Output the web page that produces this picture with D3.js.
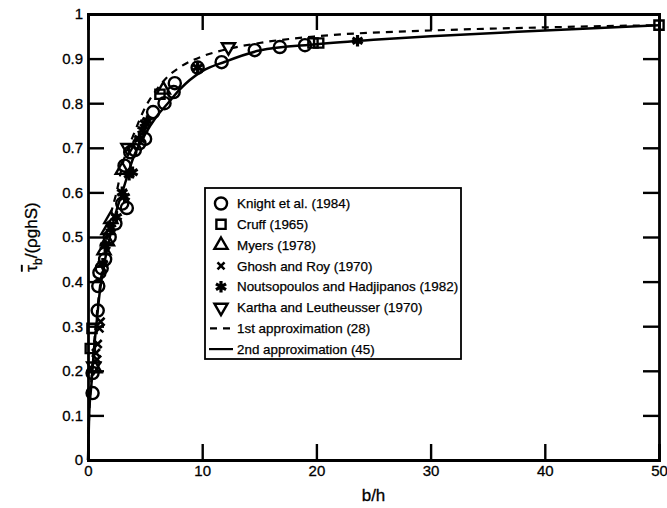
<!doctype html>
<html>
<head>
<title>bed shear stress vs b/h</title>
<script src="https://d3js.org/d3.v7.min.js"></script>
<style>
  body { margin: 0; background: #fff; }
  text { font-family: "Liberation Sans", Arial, sans-serif; fill: #000; }
</style>
</head>
<body>
<script>
// values
var xTicks = [0, 10, 20, 30, 40, 50];
var yTicks = [0, 0.1, 0.2, 0.3, 0.4, 0.5, 0.6, 0.7, 0.8, 0.9, 1];

var knight = [[0.4,0.15],[0.4,0.195],[0.85,0.335],[0.9,0.39],[1.0,0.42],[1.2,0.43],[1.5,0.45],
  [1.9,0.50],[2.4,0.53],[3.0,0.575],[3.4,0.565],[3.2,0.66],[3.7,0.69],[4.1,0.695],[4.5,0.71],
  [5.0,0.72],[5.7,0.78],[6.7,0.80],[7.5,0.825],[7.6,0.845],[9.6,0.88],[11.7,0.892],
  [14.6,0.919],[16.8,0.926],[19.0,0.93]];
var cruff = [[0.2,0.25],[0.35,0.295],[6.3,0.82],[19.7,0.935],[20.2,0.935],[50,0.975]];
var myers = [[0.6,0.205],[1.4,0.47],[1.7,0.49],[1.75,0.515],[2.0,0.54],[3.0,0.65],[6.6,0.83]];
var ghosh = [[0.7,0.24],[0.8,0.225],[0.85,0.26],[1.0,0.295],[1.1,0.31]];
var noutso = [[1.3,0.44],[1.5,0.48],[2.0,0.52],[2.5,0.545],[3.0,0.60],[3.2,0.59],[3.6,0.64],
  [3.9,0.645],[4.5,0.72],[4.8,0.74],[5.0,0.755],[5.2,0.76],[9.6,0.88],[23.6,0.94]];
var kartha = [[0.5,0.21],[3.5,0.70],[12.3,0.926]];

var approx1 = [[0,0],[0.1,0.1],[0.3,0.18],[0.5,0.25],[1,0.38],[1.5,0.47],[2,0.55],[2.5,0.6],[3,0.66],
  [4,0.73],[5,0.79],[6,0.83],[7,0.86],[8,0.88],[10,0.905],[12,0.92],[15,0.935],[20,0.95],
  [30,0.963],[40,0.97],[50,0.975]];
var approx2 = [[0,0],[0.1,0.1],[0.3,0.17],[0.5,0.24],[0.8,0.32],[1,0.37],[1.5,0.45],[2,0.51],
  [2.5,0.56],[3,0.6],[4,0.68],[5,0.73],[6,0.77],[7,0.80],[8,0.83],[10,0.872],[12,0.893],
  [15,0.918],[20,0.932],[25,0.942],[30,0.95],[40,0.963],[50,0.975]];

var legendNames = ["Knight et al. (1984)", "Cruff (1965)", "Myers (1978)", "Ghosh and Roy (1970)",
  "Noutsopoulos and Hadjipanos (1982)", "Kartha and Leutheusser (1970)",
  "1st approximation (28)", "2nd approximation (45)"];

var W = 667, H = 508;
var margin = {top: 14, right: 8, bottom: 48, left: 88};

var svg = d3.select("body").append("svg")
  .attr("width", W).attr("height", H);

var x = d3.scaleLinear().domain([0, 50]).range([margin.left, W - margin.right]);
var y = d3.scaleLinear().domain([0, 1]).range([H - margin.bottom, margin.top]);

// curves
var line = d3.line().x(function(d){ return x(d[0]); }).y(function(d){ return y(d[1]); })
  .curve(d3.curveMonotoneX);

svg.append("path").datum(approx1).attr("d", line)
  .attr("fill", "none").attr("stroke", "#000").attr("stroke-width", 2.2)
  .attr("stroke-dasharray", "7,6");
svg.append("path").datum(approx2).attr("d", line)
  .attr("fill", "none").attr("stroke", "#000").attr("stroke-width", 2.5);

// markers
function sym(type, size) { return d3.symbol().type(type).size(size)(); }
var tri = sym(d3.symbolTriangle, 75);
var xmark = "M-4,-4L4,4M-4,4L4,-4";
var markStyles = [
  {data: knight, path: sym(d3.symbolCircle, 115), sw: 2.4},
  {data: cruff, path: sym(d3.symbolSquare, 85), sw: 2.4},
  {data: myers, path: tri, sw: 2.4},
  {data: ghosh, path: xmark, sw: 2.6},
  {data: noutso, path: sym(d3.symbolAsterisk, 95), sw: 3.2},
  {data: kartha, path: tri, sw: 2.4, rot: 180}
];

markStyles.forEach(function(st){
  svg.append("g").selectAll("path").data(st.data).enter().append("path")
    .attr("d", st.path)
    .attr("transform", function(d){ return "translate(" + x(d[0]) + "," + y(d[1]) + ")" + (st.rot ? " rotate(" + st.rot + ")" : ""); })
    .attr("fill", "none").attr("stroke", "#000").attr("stroke-width", st.sw);
});

// axes with inward ticks on all sides
var fmt = function(d){ return d3.format("")(d); };
svg.append("g").attr("transform", "translate(0," + y(0) + ")")
  .call(d3.axisBottom(x).tickValues(xTicks).tickSize(-16).tickPadding(5).tickFormat(fmt))
  .call(function(g){ g.selectAll("text").attr("font-size", 15).attr("dy", "0.75em"); });
svg.append("g").attr("transform", "translate(0," + y(1) + ")")
  .call(d3.axisTop(x).tickValues(xTicks).tickSize(-16).tickFormat(""));
svg.append("g").attr("transform", "translate(" + x(0) + ",0)")
  .call(d3.axisLeft(y).tickValues(yTicks).tickSize(-16).tickPadding(5).tickFormat(fmt))
  .call(function(g){ g.selectAll("text").attr("font-size", 15); });
svg.append("g").attr("transform", "translate(" + x(50) + ",0)")
  .call(d3.axisRight(y).tickValues(yTicks).tickSize(-16).tickFormat(""));

svg.selectAll(".domain").attr("stroke", "#000").attr("stroke-width", 2.8);
svg.selectAll(".tick line").attr("stroke", "#000").attr("stroke-width", 2.4);
svg.selectAll(".tick text").attr("font-family", "Liberation Sans, Arial, sans-serif")
  .attr("fill", "#000").attr("stroke", "#000").attr("stroke-width", 0.3);

// axis titles
svg.append("text")
  .attr("x", (x(0) + x(50)) / 2).attr("y", 501)
  .attr("text-anchor", "middle").attr("font-size", 17)
  .attr("stroke", "#000").attr("stroke-width", 0.3)
  .text("b/h");

var yl = svg.append("text")
  .attr("transform", "translate(37," + ((y(0) + y(1)) / 2) + ") rotate(-90)")
  .attr("text-anchor", "middle").attr("font-size", 17)
  .attr("stroke", "#000").attr("stroke-width", 0.3);
yl.append("tspan").style("text-decoration", "overline").text("τ");
yl.append("tspan").attr("dy", 5).attr("font-size", 12).text("b");
yl.append("tspan").attr("dy", -5).text("/(ρghS)");

// legend
var lg = svg.append("g").attr("transform", "translate(205,188)");
lg.append("rect").attr("width", 256).attr("height", 171)
  .attr("fill", "#fff").attr("stroke", "#000").attr("stroke-width", 1.8);
var rowH = 20.8;
legendNames.forEach(function(name, i){
  var cy = 15.5 + i * rowH;
  var row = lg.append("g").attr("transform", "translate(0," + cy + ")");
  if (i < 6) {
    var st = markStyles[i];
    row.append("path").attr("d", i === 3 ? "M-3.5,-3.5L3.5,3.5M-3.5,3.5L3.5,-3.5" : st.path)
      .attr("transform", "translate(16,0)" + (st.rot ? " rotate(" + st.rot + ")" : ""))
      .attr("fill", "none").attr("stroke", "#000").attr("stroke-width", st.sw);
  } else if (i === 6) {
    row.append("line").attr("x1", 5).attr("x2", 27).attr("stroke", "#000")
      .attr("stroke-width", 2.2).attr("stroke-dasharray", "7,6");
  } else {
    row.append("line").attr("x1", 4).attr("x2", 28).attr("stroke", "#000").attr("stroke-width", 2.2);
  }
  row.append("text").attr("x", 32).attr("dy", "0.35em").attr("font-size", 13.4)
    .attr("stroke", "#000").attr("stroke-width", 0.25).text(name);
});
</script>
</body>
</html>
